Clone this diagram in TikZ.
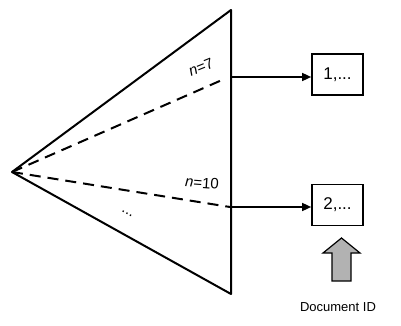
\documentclass[tikz,border=0pt]{standalone}
\usepackage{fontspec}
\setmainfont{Liberation Sans}
\usetikzlibrary{arrows.meta}

\tikzset{
  idbox/.style = {draw, line width=1.7pt, minimum width=51pt, minimum height=41pt,
                  inner sep=0pt, font=\fontsize{17}{19}\selectfont},
  branch/.style = {line width=2pt, dash pattern=on 11pt off 7pt},
  link/.style = {line width=1.5pt, -{Triangle[length=9pt,width=8pt]}},
  lab/.style = {font=\fontsize{15}{17}\selectfont, inner sep=0pt}
}

\begin{document}
\begin{tikzpicture}[x=1pt, y=-1pt]
				\useasboundingbox (0,0) rectangle (401,326);
				% the cone
				\coordinate (apex) at (12,172);
				\coordinate (top) at (231,10);
				\coordinate (bot) at (231,294);
				\coordinate (cut7) at (222,80);
				\coordinate (cut10) at (230,207);
				\coordinate (out7) at (231,77);
				\coordinate (out10) at (231,207);
				\draw[line width=2pt, line join=round] (apex) -- (top) -- (bot) -- cycle;
				\draw[branch] (apex) -- (cut7);
				\draw[branch] (apex) -- (cut10);
				\node[lab, rotate=22] (n7) at (201,67) {\textit{n}=7};
				\node[lab, rotate=-4] (n10) at (202,183) {\textit{n}=10};
				\node[lab, rotate=-27] (dots) at (127,214) {...};
				% lists
				\node[idbox] (list1) at (337.5,74.5) {1,...};
				\node[idbox] (list2) at (337.5,205) {2,...};
				\draw[link] (out7) -- (list1.west |- out7);
				\draw[link] (out10) -- (list2.west |- out10);
				% incoming id
				\coordinate (up) at (341.5,238);
				\draw[line width=1.2pt, fill=gray!60] (up) -- ++(18.5,15) -- ++(-9,0) -- ++(0,28)
				  -- ++(-19,0) -- ++(0,-28) -- ++(-9,0) -- cycle;
				\node[font=\fontsize{13}{15}\selectfont] (docid) at (338,307) {Document ID};
\end{tikzpicture}
\end{document}
